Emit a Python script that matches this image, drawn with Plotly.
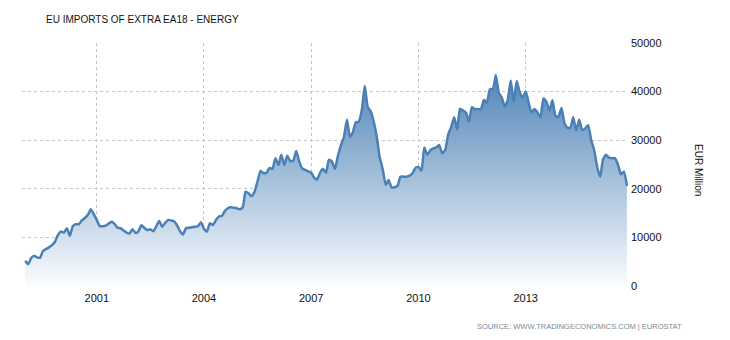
import plotly.graph_objects as go
import pandas as pd

title_text = "EU IMPORTS OF EXTRA EA18 - ENERGY"
source_text = "SOURCE: WWW.TRADINGECONOMICS.COM | EUROSTAT"
y_title = "EUR Million"

start_month = "1999-01-01"
values = [
    5200, 4500, 5700, 6200, 5900, 5800, 7200, 7600, 7950, 8400, 9100, 10500,
    11200, 11000, 11900, 10300, 12300, 12700, 12700, 13500, 14000, 14600, 15800, 14800,
    13600, 12300, 12300, 12400, 12800, 13200, 12800, 12000, 11900, 11400, 11000, 10800,
    11700, 10900, 11200, 12500, 12000, 11500, 11700, 11250, 12300, 13400, 12200, 13000,
    13600, 13500, 13300, 12500, 11300, 10600, 11900, 12000, 12100, 12200, 12300, 13100,
    11800, 11200, 12900, 12550, 13500, 14300, 14400, 15400, 16000, 16200, 16100, 16000,
    15800, 16200, 19400, 19100, 18500, 19400, 21500, 23700, 23200, 23300, 24300, 24100,
    26300, 24900, 27000, 24900, 26800, 25700, 25800, 27800, 25600, 24200, 23900, 23600,
    23300, 22300, 21900, 23300, 24100, 23300, 26000, 25600, 24100, 26800, 29000, 30600,
    34200, 30700, 31600, 33700, 33800, 36200, 41200, 36800, 35900, 33800, 30700, 26500,
    24000, 20800, 21800, 20300, 20300, 20600, 22500, 22500, 22500, 22700, 23200, 24300,
    24500, 23700, 28500, 27000, 27900, 28300, 28500, 29000, 27300, 28000, 31200, 32700,
    34700, 32200, 36500, 36100, 35700, 33800, 36800, 36400, 36400, 36400, 38300, 37700,
    40500, 40500, 43400, 39800, 38800, 36900, 38300, 42300, 37900, 42200, 39800, 38800,
    40000, 37600, 35700, 36400, 35700, 34700, 38600, 37900, 36100, 38200, 35000, 34800,
    36600, 33500, 32600, 32500, 34700, 32000, 34200, 32100, 32400, 33100, 30000, 28000,
    24500, 22500, 26000, 27000, 26400, 26300, 26300, 25000, 23000, 23500, 20600,
]
dates = pd.date_range(start_month, periods=len(values), freq="MS")

y_ticks = [0, 10000, 20000, 30000, 40000, 50000]

fig = go.Figure()
fig.add_trace(go.Scatter(
    x=dates, y=values, mode="lines",
    line=dict(color="#4a80b6", width=2.5, shape="spline", smoothing=0.5),
    fill="tozeroy",
    fillgradient=dict(
        type="vertical",
        start=0, stop=44000,
        colorscale=[[0, "rgba(250,252,255,1)"], [0.5, "rgba(165,192,218,1)"], [1, "rgba(80,132,185,1)"]],
    ),
    hoverinfo="skip",
))

grid = dict(showgrid=True, gridcolor="#c4c4c4", griddash="dot", gridwidth=1)

fig.update_layout(
    width=730, height=340,
    margin=dict(l=22, r=102, t=43, b=54),
    paper_bgcolor="white", plot_bgcolor="white",
    showlegend=False,
    font=dict(family="Liberation Sans, Arial", size=11, color="#111"),
    xaxis=dict(
        type="date",
        range=["1998-11-29", "2015-11-12"],
        tick0="2001-01-01", dtick="M36", tickformat="%Y",
        ticks="", showline=False, zeroline=False,
        ticklabelstandoff=4,
        tickfont=dict(size=11, color="#111"),
        **grid,
    ),
    yaxis=dict(
        side="right", range=[0, 50000],
        tickvals=y_ticks, ticktext=[str(v) for v in y_ticks],
        ticks="", showline=False, zeroline=False,
        ticklabelstandoff=2,
        tickfont=dict(size=11, color="#111"),
        **grid,
    ),
    annotations=[
        dict(text=title_text, xref="paper", yref="paper", x=0.036, y=1.0,
             xanchor="left", yanchor="bottom", yshift=16, showarrow=False,
             font=dict(size=10, color="#111")),
        dict(text=y_title, xref="paper", yref="paper", x=1.0, y=0.477,
             xanchor="center", yanchor="middle", xshift=71, textangle=90,
             showarrow=False, font=dict(size=10, color="#111")),
        dict(text=source_text, xref="paper", yref="paper", x=1.0, y=0.0,
             xanchor="right", yanchor="top", xshift=56, yshift=-34,
             showarrow=False, font=dict(size=7.5, color="#7a8a99")),
    ],
)

fig.write_html("out.html")
